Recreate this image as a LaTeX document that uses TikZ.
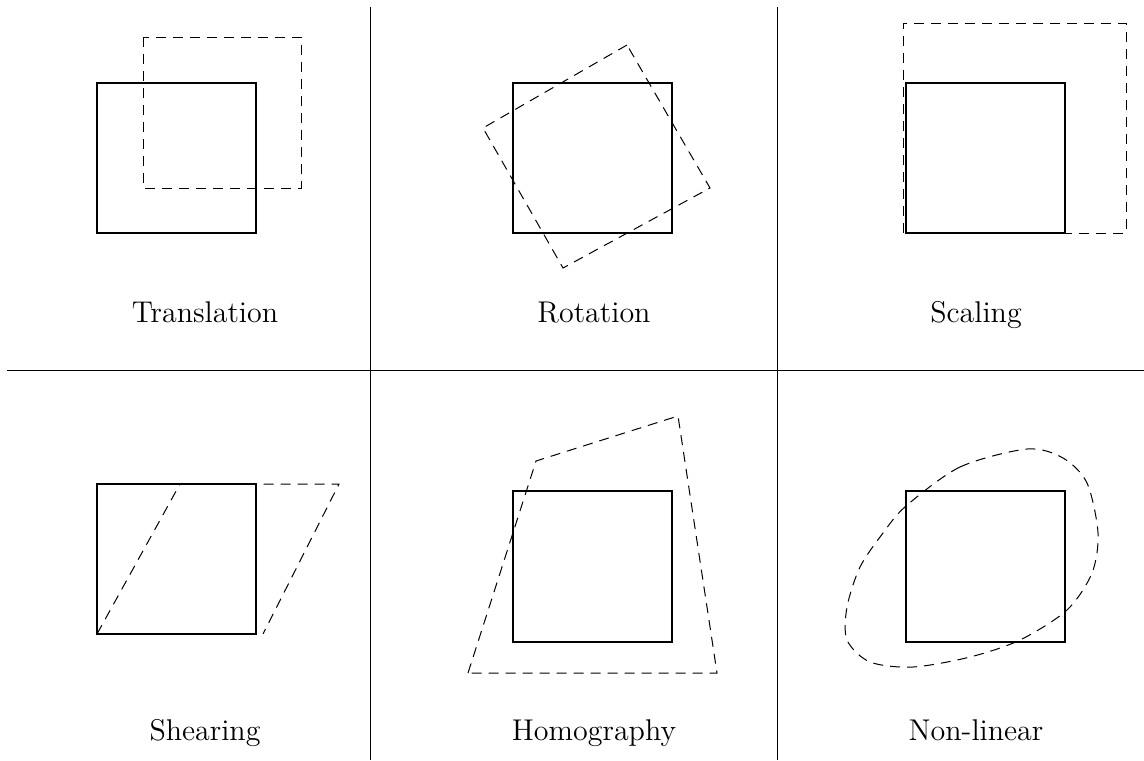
\documentclass[tikz,border=0pt]{standalone}
\begin{document}
\begin{tikzpicture}[x=0.4pt,y=-0.4pt,
    orig/.style={thick},
    transf/.style={dash pattern=on 4pt off 2.8pt},
    etiqueta/.style={font=\large,anchor=base}]
    \useasboundingbox (0,0) rectangle (1144,760);

    % cuadricula
    \draw (370,7) -- (370,760);
    \draw (777.7,7) -- (777.7,760);
    \draw (7,370) -- (1144,370);

    % traslacion
    \draw[orig] (97,83) rectangle (256,233);
    \draw[transf] (143,37) rectangle (301,188);
    \node[etiqueta] (tras) at (205,322) {Translation};

    % rotacion
    \draw[orig] (513,83) rectangle (672,233);
    \draw[transf] (627,45) -- (483,128) -- (563,268) -- (710,188) -- cycle;
    \node[etiqueta] (rot) at (594,322) {Rotation};

    % escalado
    \draw[orig] (906,83) rectangle (1065,233);
    \draw[transf] (903,233) rectangle (1126,23);
    \node[etiqueta] (esc) at (976,322) {Scaling};

    % cizalla
    \draw[orig] (97,484) rectangle (256,634);
    \draw[transf] (97,634) -- (180,484) -- (339,484) -- (263,634);
    \node[etiqueta] (ciz) at (205,740) {Shearing};

    % homografia
    \draw[orig] (513,491) rectangle (672,642);
    \draw[transf] (468,673) -- (536,461) -- (678,416) -- (717,673) -- cycle;
    \node[etiqueta] (hom) at (594,740) {Homography};

    % no lineal
    \draw[orig] (906,491) rectangle (1065,642);
    \draw[transf] plot[smooth cycle] coordinates {
        (906,506) (960,467) (1027,449) (1063,458) (1087,483)
        (1098,533) (1092,573) (1067,610) (1020,640) (970,657)
        (913,667) (870,662) (847,640) (847,607) (860,567) (883,533)};
    \node[etiqueta] (nolin) at (976,740) {Non-linear};
\end{tikzpicture}
\end{document}
